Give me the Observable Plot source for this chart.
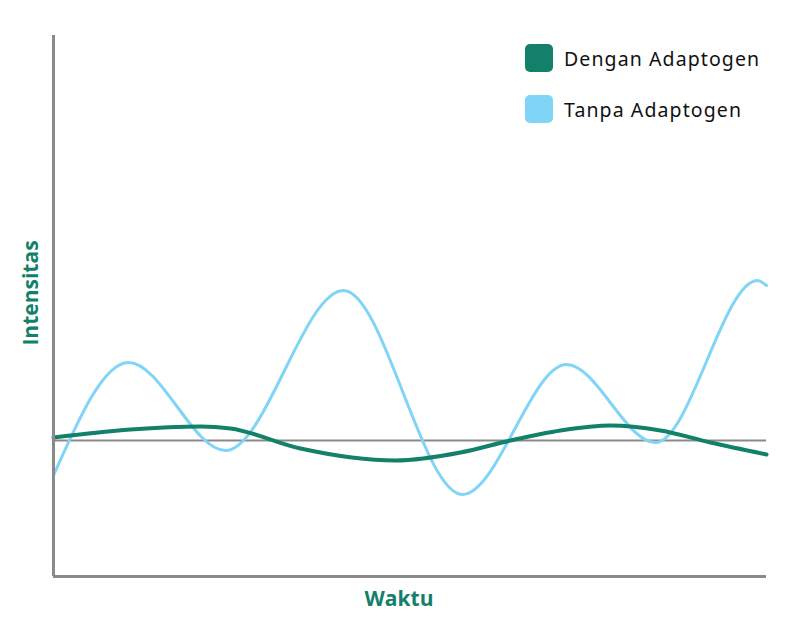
<!DOCTYPE html>
<html><head><meta charset="utf-8">
<script src="https://cdn.jsdelivr.net/npm/d3@7"></script>
<script src="https://cdn.jsdelivr.net/npm/@observablehq/plot@0.6"></script>
<style>
body{margin:0;background:#fff;}
#wrap{position:relative;width:800px;height:623px;}
.leg{position:absolute;left:525px;display:flex;align-items:center;font-family:"Noto Sans",sans-serif;font-size:19.5px;color:#111;letter-spacing:1.1px;}
.sw{width:28px;height:28px;border-radius:5px;margin-right:11px;}
</style></head>
<body><div id="wrap"></div>
<script>
const seriesNames = ["Dengan Adaptogen", "Tanpa Adaptogen"];
const colors = ["#13806a", "#80d4f6"];
// time (arbitrary units) and intensity relative to baseline
const tanpaX = [0, 75, 172, 290, 409, 513, 602, 704, 713];
const tanpaY = [-35, 78, -10, 150, -54, 76, -2, 160, 155];
const denganX = [0, 77, 147, 177, 247, 342, 407, 457, 507, 557, 607, 657, 713];
const denganY = [3, 11, 14, 12, -8, -20, -12, 0, 10, 15, 10, -2, -14];
const xLabel = "Waktu";
const yLabel = "Intensitas";

const tanpa = tanpaX.map((x,i)=>({x, y:tanpaY[i]}));
const dengan = denganX.map((x,i)=>({x, y:denganY[i]}));

const plot = Plot.plot({
  width: 800, height: 623,
  marginLeft: 53, marginRight: 34, marginTop: 35, marginBottom: 47,
  x: {domain: [0, 713], axis: null},
  y: {domain: [-136, 405], axis: null},
  style: {background: "#fff"},
  marks: [
    Plot.ruleY([0], {stroke: "#8a8a8a", strokeWidth: 2}),
    Plot.line(tanpa, {x: "x", y: "y", stroke: colors[1], strokeWidth: 3, curve: "monotone-x"}),
    Plot.line(dengan, {x: "x", y: "y", stroke: colors[0], strokeWidth: 4, curve: "monotone-x"}),
    Plot.ruleX([0], {stroke: "#8a8a8a", strokeWidth: 3}),
    Plot.ruleY([-136], {stroke: "#8a8a8a", strokeWidth: 3}),
    Plot.text([xLabel], {frameAnchor: "bottom", dx: -11, dy: 29, text: d=>d, fill: colors[0], fontSize: 21, fontWeight: "bold", fontFamily: "'Open Sans', sans-serif", letterSpacing: "0.8px"}),
    Plot.text([yLabel], {frameAnchor: "left", textAnchor: "middle", dx: -22, dy: -13, text: d=>d, rotate: -90, fill: colors[0], fontSize: 21, fontWeight: "bold", fontFamily: "'Open Sans', sans-serif", letterSpacing: "1.6px"})
  ]
});
const wrap = document.getElementById("wrap");
wrap.appendChild(plot);
seriesNames.forEach((n,i)=>{
  const d = document.createElement("div");
  d.className = "leg";
  d.style.top = (44 + i*51) + "px";
  d.innerHTML = `<span class="sw" style="background:${colors[i]}"></span><span>${n}</span>`;
  wrap.appendChild(d);
});
</script></body></html>
